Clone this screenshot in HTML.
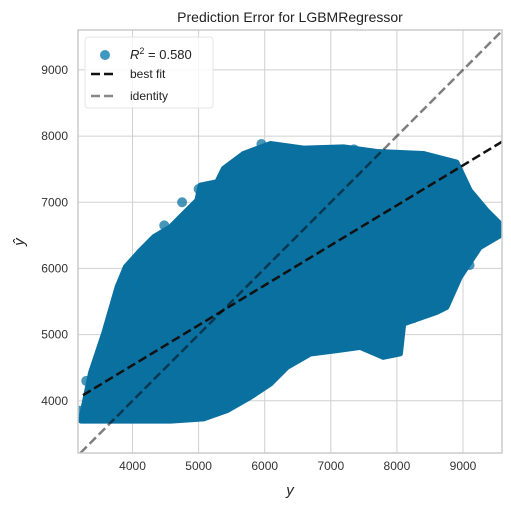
<!DOCTYPE html>
<html><head><meta charset="utf-8"><style>
body{margin:0;background:#fff;font-family:"Liberation Sans","DejaVu Sans",sans-serif}
</style></head><body>
<svg id="c" width="511" height="509" xmlns="http://www.w3.org/2000/svg"></svg>
<script>
const xTicks=[4000,5000,6000,7000,8000,9000];
const yTicks=[4000,5000,6000,7000,8000,9000];
const cloudX=[3220,3371,3572,3774,3899,4125,4326,4578,4728,4980,5030,5282,5381,5683,6086,6588,7191,7695,8397,8901,9101,9353,9554,9554,9252,8951,8750,8600,8096,8046,7794,7443,7091,6689,6337,6086,5784,5433,5080,4578,4075,3500];
const cloudY=[3700,4418,5021,5719,6021,6272,6473,6624,6775,7027,7253,7303,7505,7731,7880,7810,7830,7760,7730,7600,7177,6876,6675,6499,6322,5870,5418,5342,5167,4715,4664,4815,4765,4715,4513,4262,4060,3860,3735,3700,3700,3700];
const outX=[3260,3300,4050,4480,5000,5950,7350,7800,8250,9100,9400,4750,3200];
const outY=[3750,4300,5750,6650,7200,7880,7800,4700,5250,6050,6600,7000,3850];
const r2=0.580, fitSlope=0.604, fitIntercept=2122;
const X0=3175,X1=9590,Y0=3211,Y1=9603;
const L=78,R=502,T=30,B=453;
const sx=v=>L+(v-X0)/(X1-X0)*(R-L);
const sy=v=>B-(v-Y0)/(Y1-Y0)*(B-T);
const svg=document.getElementById('c');const NS='http://www.w3.org/2000/svg';
function mk(t,a,p){const e=document.createElementNS(NS,t);for(const k in a)e.setAttribute(k,a[k]);(p||svg).appendChild(e);return e;}
const clip=mk('clipPath',{id:'cp'});mk('rect',{x:L,y:T,width:R-L,height:B-T},clip);
for(const t of xTicks){const l=mk('line',{x1:sx(t),x2:sx(t),y1:T,y2:B,stroke:'#d0d0d0','stroke-width':1});

const tx=mk('text',{x:sx(t),y:B+17,'text-anchor':'middle','font-size':12,fill:'#333'});tx.textContent=t;
}
for(const t of yTicks){const l=mk('line',{x1:L,x2:R,y1:sy(t),y2:sy(t),stroke:'#d0d0d0','stroke-width':1});

const tx=mk('text',{x:L-10,y:sy(t)+4,'text-anchor':'end','font-size':12,fill:'#333'});tx.textContent=t;
}
const g=mk('g',{'clip-path':'url(#cp)'});
const pts=cloudX.map((x,i)=>sx(x)+','+sy(cloudY[i])).join(' ');
const poly=mk('polygon',{points:pts,fill:'#0a70a0',stroke:'#0a70a0','stroke-width':6,'stroke-linejoin':'round'},g);

outX.forEach((x,i)=>{const c=mk('circle',{cx:sx(x),cy:sy(outY[i]),r:5,fill:'#0a72a2','fill-opacity':0.75},g);
});
const fl=mk('line',{x1:sx(3250),y1:sy(fitIntercept+fitSlope*3250),x2:sx(X1),y2:sy(fitIntercept+fitSlope*X1),stroke:'#111','stroke-width':2.5,'stroke-dasharray':'9,4'},g);

const il=mk('line',{x1:sx(Y0),y1:sy(Y0),x2:sx(X1),y2:sy(X1),stroke:'#000','stroke-width':2.5,'stroke-dasharray':'9,4','stroke-opacity':0.5},g);

const fr=mk('rect',{x:L,y:T,width:R-L,height:B-T,fill:'none',stroke:'#cccccc','stroke-width':1.5});

const lg=mk('g',{});
mk('rect',{x:85,y:37,width:128,height:71,rx:3,fill:'#fff','fill-opacity':0.8,stroke:'#e6e6e6'},lg);
mk('circle',{cx:105,cy:55,r:5,fill:'#3f98c0'},lg);
const t1=mk('text',{x:130,y:59,'font-size':13,fill:'#222'},lg);t1.innerHTML='<tspan font-style="italic">R</tspan><tspan font-size="9" dy="-5">2</tspan><tspan dy="5"> = '+r2.toFixed(3)+'</tspan>';
mk('line',{x1:91,x2:117,y1:74,y2:74,stroke:'#111','stroke-width':2.5,'stroke-dasharray':'9,4'},lg);
const t2=mk('text',{x:130,y:78,'font-size':12,fill:'#222'},lg);t2.textContent='best fit';
mk('line',{x1:91,x2:117,y1:96,y2:96,stroke:'#888','stroke-width':2.5,'stroke-dasharray':'9,4'},lg);
const t3=mk('text',{x:130,y:100,'font-size':12,fill:'#222'},lg);t3.textContent='identity';
const ti=mk('text',{x:290,y:22,'text-anchor':'middle','font-size':14,fill:'#222'});ti.textContent='Prediction Error for LGBMRegressor';

const xl=mk('text',{x:290,y:495,'text-anchor':'middle','font-size':15,'font-style':'italic',fill:'#222'});xl.textContent='y';

const yl=mk('text',{x:24,y:242,'text-anchor':'middle','font-size':15,'font-style':'italic',fill:'#222',transform:'rotate(-90 24 242)'});yl.textContent='ŷ';

</script>
</body></html>
